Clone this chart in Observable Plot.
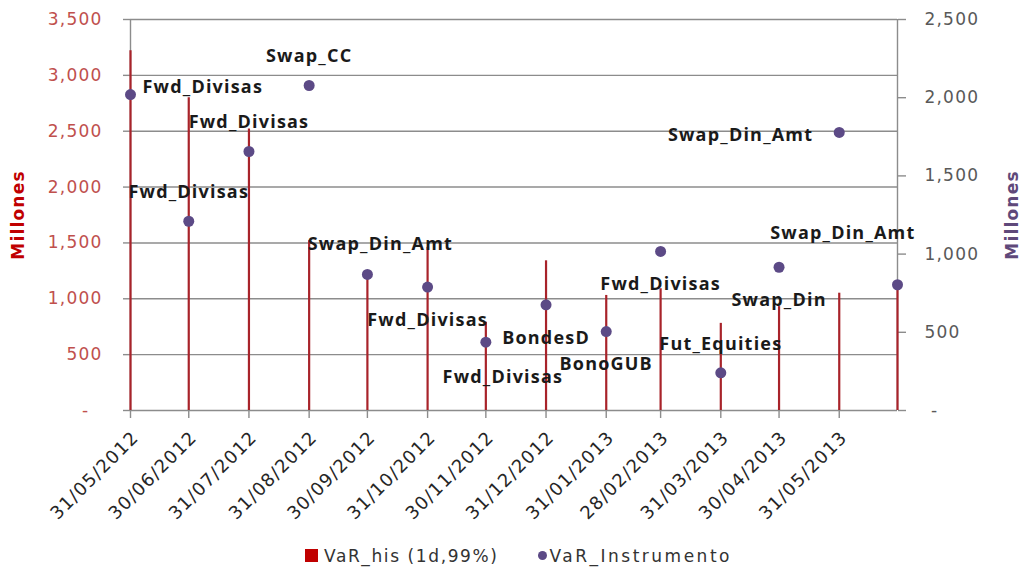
<!DOCTYPE html>
<html><head><meta charset="utf-8">
<script src="https://cdn.jsdelivr.net/npm/d3@7"></script>
<script src="https://cdn.jsdelivr.net/npm/@observablehq/plot@0.6"></script>
<style>
body{margin:0;background:#fff;}
#chart svg text{letter-spacing:1.2px}
#legend{height:41px;display:flex;align-items:center;padding-left:305px;font:17px "DejaVu Sans";color:#333;}
#legend .sq{width:13px;height:13px;background:#c00000;margin-right:6px;}
#legend .dt{width:9px;height:9px;border-radius:50%;background:#5c4a86;margin-left:40px;margin-right:2px;}
#legend .t1{letter-spacing:1.6px}
#legend .t2{letter-spacing:2.5px}
</style></head><body>
<div id="chart"></div>
<div id="legend"></div>
<script>
// ---- data ----
const dates = ["2012-05-31","2012-06-30","2012-07-31","2012-08-31","2012-09-30","2012-10-31","2012-11-30","2012-12-31","2013-01-31","2013-02-28","2013-03-31","2013-04-30","2013-05-31","2013-06-30"];
const varHis = [3220, 2800, 2520, 1520, 1210, 1460, 790, 1340, 1030, 1090, 780, 930, 1050, 1090];
const varInstrumento = [2020, 1210, 1656, 2078, 870, 789, 437, 676, 505, 1017, 241, 916, 1778, 804];
const instrumentos = ["Fwd_Divisas","Fwd_Divisas","Fwd_Divisas","Swap_CC","Swap_Din_Amt","Fwd_Divisas","Fwd_Divisas","BondesD","BonoGUB","Fwd_Divisas","Fut_Equities","Swap_Din","Swap_Din_Amt","Swap_Din_Amt"];
const labelPlacement = ["right","above","above","above","aboveRight","below","belowRight","below","below","below","above","below","left","aboveLeft"];
const leftTicks = [0,500,1000,1500,2000,2500,3000,3500];
const rightTicks = [0,500,1000,1500,2000,2500];
const xTickDates = dates.slice(0, 13);
const seriesNames = ["VaR_his (1d,99%)", "VaR_Instrumento"];
const axisTitle = "Millones";

// ---- build ----
const k = 3500 / 2500; // right axis -> left axis
const parse = d3.utcParse("%Y-%m-%d");
const table = dates.map((d, i) => ({date: parse(d), his: varHis[i], instr: varInstrumento[i] * k, name: instrumentos[i], place: labelPlacement[i]}));
const fmt = d3.format(",");
const grey = "#8c8c8c";
const labelFont = {fontFamily: "Open Sans", fontWeight: 700, fontSize: 18, fill: "#1a1a1a"};
const offsets = {
  right: {dx: 12, dy: -7, textAnchor: "start"},
  above: {dx: 0, dy: -29, textAnchor: "middle"},
  aboveRight: {dx: 13, dy: -30, textAnchor: "middle"},
  below: {dx: 0, dy: 33, textAnchor: "middle"},
  belowRight: {dx: 17, dy: 35, textAnchor: "middle"},
  left: {dx: -26, dy: 3, textAnchor: "end"},
  aboveLeft: {dx: 18, dy: -52, textAnchor: "end"}
};
const labelMarks = Object.entries(offsets).map(([p, o]) =>
  Plot.text(table.filter(d => d.place === p), {x: "date", y: "instr", text: "name", ...o, ...labelFont, ariaLabel: "dlabels"}));
const xTicks = xTickDates.map(parse);

const chart = Plot.plot({
  width: 1023, height: 535,
  marginLeft: 130, marginRight: 126, marginTop: 19, marginBottom: 125,
  style: {fontFamily: "DejaVu Sans", fontSize: "17px", background: "#fff"},
  x: {type: "utc", domain: [table[0].date, table[table.length - 1].date]},
  y: {domain: [0, 3500]},
  marks: [
    Plot.ruleY(leftTicks, {stroke: grey, strokeWidth: 1.4}),
    Plot.ruleX([table[0].date, table[table.length - 1].date], {stroke: grey, strokeWidth: 1.4}),
    Plot.axisY({ticks: leftTicks, tickFormat: d => d === 0 ? "-\u00a0\u00a0" : fmt(d), tickSize: 7, tickPadding: 21, stroke: grey, strokeWidth: 1.4, fill: "#c0504d", fontSize: 17, label: null}),
    Plot.axisY({anchor: "right", ticks: rightTicks.map(v => v * k), tickFormat: d => { const v = Math.round(d / k); return v === 0 ? "\u00a0-" : fmt(v); }, tickSize: 8, tickPadding: 19, stroke: grey, strokeWidth: 1.4, fill: "#595959", fontSize: 17, label: null}),
    Plot.axisX({ticks: xTicks, tickFormat: () => "", tickSize: 8, stroke: grey, strokeWidth: 1.4, label: null}),
    Plot.axisX({ticks: xTicks, tickFormat: d3.utcFormat("%d/%m/%Y"), tickRotate: -45, tickSize: 0, tickPadding: 24, dx: 5, fill: "#262626", fontSize: 18, label: null}),
    Plot.ruleX(table, {x: "date", y1: 0, y2: "his", stroke: "#a8232a", strokeWidth: 2.2}),
    Plot.dot(table, {x: "date", y: "instr", r: 5.5, fill: "#5c4a86", stroke: "none"}),
    ...labelMarks,
    Plot.text([axisTitle], {frameAnchor: "left", textAnchor: "middle", rotate: -90, dx: -112, fill: "#c00000", fontWeight: 700, fontSize: 17}),
    Plot.text([axisTitle], {frameAnchor: "right", textAnchor: "middle", rotate: -90, dx: 115, fill: "#5f497a", fontWeight: 700, fontSize: 17})
  ]
});
document.getElementById("chart").append(chart);
d3.select(chart).selectAll('g[aria-label="dlabels"] text').style("letter-spacing", "0.6px");

const lg = d3.select("#legend");
lg.append("div").attr("class", "sq");
lg.append("span").attr("class", "t1").text(seriesNames[0]);
lg.append("div").attr("class", "dt");
lg.append("span").attr("class", "t2").text(seriesNames[1]);
</script>
</body></html>
